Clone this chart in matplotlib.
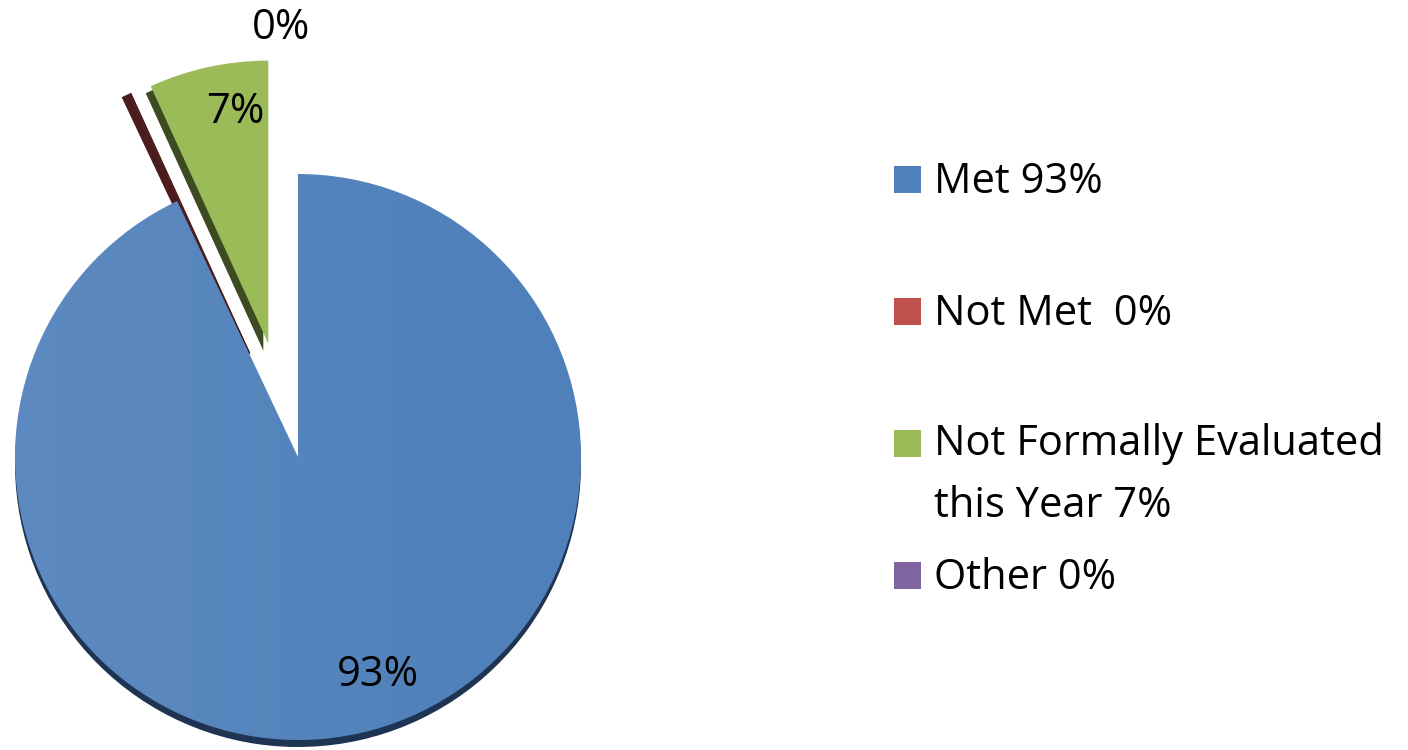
import matplotlib.pyplot as plt
import numpy as np

plt.rcParams['font.family'] = ['Open Sans', 'DejaVu Sans']

# data
labels = ['Met 93%', 'Not Met  0%', 'Not Formally Evaluated\nthis Year 7%', 'Other 0%']
values = [92.7, 0.2, 6.8, 0.0]
pct_text = ['93%', '', '7%', '0%']
explode = [0.0, 0.41, 0.41, 0.0]   # fraction of the radius

face_colors = ['#4f80ba', '#4f1f1f', '#9bbb59', '#8064a2']
side_colors = ['#1f3352', '#4a1c1c', '#3d4b22', '#8064a2']
legend_colors = ['#4f81bd', '#c0504d', '#9bbb59', '#8064a2']

W, H = 1408, 750
fig = plt.figure(figsize=(W / 100, H / 100), dpi=100)
ax = fig.add_axes([0, 0, 1, 1])

cx, cy, r = 298, 293, 283
expl = [e * r for e in explode]  # pie() takes explode in data units

# small nudges so the exploded slices sit like in the excel chart
nudge = [(0, 0), (0, 0), (-5, 0), (0, 0)]
# dark "side" of the slices (fake 3d)
side_shift = [(0, -7), (-2, -3), (-5, -7), (0, 0)]
side_lw = [0, 5, 0, 0]

side, _ = ax.pie(values, radius=r, center=(cx, cy), startangle=90, counterclock=False,
                 explode=expl, colors=side_colors, frame=True)
for w, (dx, dy), (nx, ny), lw, col in zip(side, side_shift, nudge, side_lw, side_colors):
    c = w.center
    w.set_center((c[0] + dx + nx, c[1] + dy + ny))
    w.set_linewidth(lw)
    w.set_edgecolor(col)

faces, _ = ax.pie(values, radius=r, center=(cx, cy), startangle=90, counterclock=False,
                  explode=expl, colors=face_colors, frame=True,
                  wedgeprops=dict(linewidth=0))
for w, (nx, ny) in zip(faces, nudge):
    c = w.center
    w.set_center((c[0] + nx, c[1] + ny))

# slight light gradient on the big slice
yy, xx = np.mgrid[0:1:200j, 0:1:200j]
grad = np.dstack([np.ones_like(xx)] * 3 + [0.08 * (1 - xx)])
im = ax.imshow(grad, extent=(cx - r, cx + r, cy - r, cy + r), origin='lower', zorder=2)
im.set_clip_path(faces[0])

ax.set_xlim(0, W)
ax.set_ylim(0, H)
ax.set_aspect('equal')
ax.axis('off')

# percentage labels
label_pos = [(378, 675), None, (235, 112), (281, 28)]
for t, p in zip(pct_text, label_pos):
    if p is None or t == '':
        continue
    ax.text(p[0], H - p[1], t, fontsize=30, ha='center', va='center', color='black', zorder=5)

# legend
box_y = [193, 325, 457, 589]
text_y = [193, 325, 517, 589]   # baseline of the last line
for lab, col, by, ty in zip(labels, legend_colors, box_y, text_y):
    ax.add_patch(plt.Rectangle((894, H - by), 27, 27, color=col, lw=0))
    ax.text(934, H - ty, lab, fontsize=30, ha='left', va='baseline', color='black',
            linespacing=1.62)

fig.savefig('out.png', dpi=100)
